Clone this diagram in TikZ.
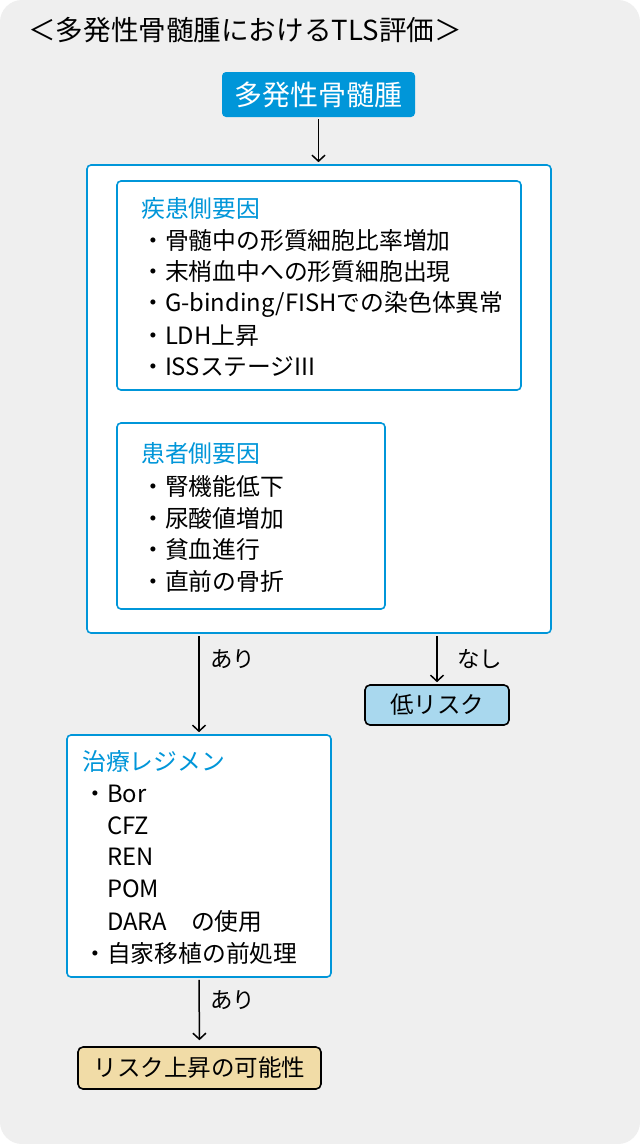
\documentclass[tikz,border=0pt]{standalone}
\usepackage{fontspec}
\setmainfont{Noto Sans CJK JP}
\usetikzlibrary{arrows.meta}
\definecolor{bgc}{HTML}{EFEFEF}
\definecolor{bluec}{HTML}{0096D9}
\definecolor{lowc}{HTML}{A9D8EE}
\definecolor{riskc}{HTML}{F1DCA7}
\newcommand\fsz[1]{\fontsize{#1}{#1}\selectfont}
\begin{document}
\begin{tikzpicture}[x=1pt,y=-1pt,
  bluebox/.style={draw=bluec, line width=1.6pt, rounded corners=4pt, fill=white, inner sep=0pt},
  blackbox/.style={draw=black, line width=1.6pt, rounded corners=5pt, inner sep=0pt, font=\fsz{23.5}},
  txt/.style={anchor=west, inner sep=0pt, font=\fsz{23.8}},
  head/.style={txt, text=bluec},
  arr/.style={-{Straight Barb[length=6pt,width=13pt]}, line width=1.5pt, shorten >=2pt, shorten <=2pt},
  lbl/.style={anchor=west, inner sep=0pt, font=\fsz{22.5}}]
\fill[white] (0,0) rectangle (640,1144);
\useasboundingbox (0,0) rectangle (640,1144);
\fill[bgc, rounded corners=22pt] (0,0) rectangle (640,1144);

\node[anchor=west, inner sep=0pt, font=\fsz{27.6}] (title) at (28,30) {＜多発性骨髄腫におけるTLS評価＞};

\node[fill=bluec, rounded corners=4pt, minimum width=193pt, minimum height=45pt, inner sep=0pt, text=white, font=\fsz{28}] (mm) at (318.5,94.5) {多発性骨髄腫};

\node[bluebox, minimum width=464pt, minimum height=468pt] (outer) at (319,399) {};
\node[bluebox, minimum width=404pt, minimum height=209pt] (dis) at (319,285.5) {};
\node[bluebox, minimum width=268pt, minimum height=186pt] (pat) at (251,516) {};

\node[head] (dh) at (141,208) {疾患側要因};
\node[txt] (d1) at (141,240) {・骨髄中の形質細胞比率増加};
\node[txt] (d2) at (141,272) {・末梢血中への形質細胞出現};
\node[txt] (d3) at (141,304) {・G-binding/FISHでの染色体異常};
\node[txt] (d4) at (141,336) {・LDH上昇};
\node[txt] (d5) at (141,367) {・ISSステージIII};

\node[head] (ph) at (141,453) {患者側要因};
\node[txt] (p1) at (141,486) {・腎機能低下};
\node[txt] (p2) at (141,518) {・尿酸値増加};
\node[txt] (p3) at (141,549) {・貧血進行};
\node[txt] (p4) at (141,581) {・直前の骨折};

\node[blackbox, fill=lowc, minimum width=144pt, minimum height=40pt] (low) at (437,705) {低リスク};

\node[bluebox, minimum width=264pt, minimum height=242pt] (reg) at (199,856) {};
\node[head] (rh) at (82,761) {治療レジメン};
\node[txt] (r1) at (83,794) {・Bor};
\node[txt] (r2) at (107,826) {CFZ};
\node[txt] (r3) at (107,857) {REN};
\node[txt] (r4) at (107,889) {POM};
\node[txt] (r5) at (107,921) {DARA　の使用};
\node[txt] (r6) at (83,953) {・自家移植の前処理};

\node[blackbox, fill=riskc, minimum width=243pt, minimum height=42pt] (risk) at (199.5,1068) {リスク上昇の可能性};

\draw[arr] (mm.south) -- (mm.south |- outer.north);
\draw[arr] (outer.south -| reg.north) -- (reg.north);
\draw[arr] (outer.south -| low.north) -- (low.north);
\draw[arr, shorten >=6pt] (reg.south) -- (risk.north);

\node[lbl] (l1) at (210,659) {あり};
\node[lbl] (l2) at (457,659) {なし};
\node[lbl] (l3) at (210,1000) {あり};
\end{tikzpicture}
\end{document}
